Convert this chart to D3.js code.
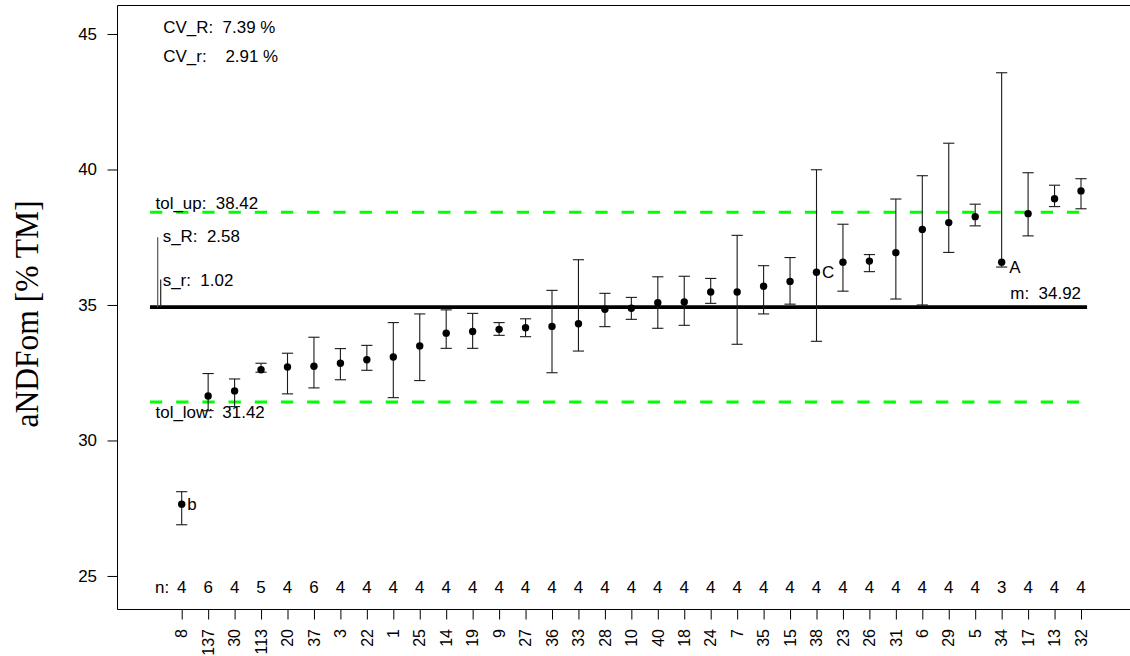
<!DOCTYPE html>
<html><head><meta charset="utf-8">
<script src="https://cdn.jsdelivr.net/npm/d3@7"></script>
<style>
body{margin:0;background:#fff;overflow:hidden}
text{font-family:"Liberation Sans",Arial,sans-serif;font-size:16px;white-space:pre;fill:#000}
</style>
</head><body>
<svg id="c" width="1130" height="656"></svg>
<script>
// ---- data ----
const labs   = ["8","137","30","113","20","37","3","22","1","25","14","19","9","27","36","33","28","10","40","18","24","7","35","15","38","23","26","31","6","29","5","34","17","13","32"];
const means  = [27.65,31.64,31.83,32.61,32.71,32.74,32.85,32.98,33.08,33.49,33.96,34.02,34.10,34.16,34.21,34.31,34.84,34.88,35.08,35.11,35.48,35.48,35.69,35.87,36.21,36.58,36.62,36.93,37.79,38.04,38.26,36.58,38.37,38.92,39.21];
const upper  = [28.11,32.47,32.27,32.85,33.22,33.81,33.39,33.51,34.35,34.67,34.82,34.69,34.35,34.49,35.54,36.67,35.43,35.28,36.04,36.06,35.98,37.57,36.45,36.75,39.99,37.98,36.86,38.91,39.77,40.97,38.72,43.57,39.88,39.42,39.66];
const lower  = [26.89,31.10,31.25,32.52,31.72,31.94,32.24,32.59,31.58,32.21,33.40,33.40,33.88,33.83,32.50,33.30,34.20,34.47,34.14,34.25,35.06,33.55,34.67,35.03,33.66,35.51,36.23,35.22,35.00,36.94,37.92,36.40,37.55,38.63,38.55];
const nvals  = [4,6,4,5,4,6,4,4,4,4,4,4,4,4,4,4,4,4,4,4,4,4,4,4,4,4,4,4,4,4,4,3,4,4,4];
const flagLabs = ["8","38","34"];
const flagText = ["b","C","A"];
const yTicks = [25,30,35,40,45];
const mVal = 34.92, tolUp = 38.42, tolLow = 31.42, sR = 2.58, sr = 1.02;
const cvR = "7.39", cvr = "2.91";
const yTitle = "aNDFom [% TM]";

// ---- layout ----
const SX = 1.06;
const svg = d3.select("#c");
const x = d3.scaleLinear().domain([0, labs.length - 1]).range([181.7, 1081]);
const y = d3.scaleLinear().domain([23.77, 46.07]).range([609.3, 5]);
const pLeft = 117.5, pTop = 5.5, pBottom = 609.5;

function txt(px, py, s, anchor, rot) {
  const g = svg.append("g").attr("transform", `translate(${px},${py}) scale(${SX},1)` + (rot ? ` rotate(${rot})` : ""));
  return g.append("text").attr("text-anchor", anchor || "start").text(s);
}

// box (right side extends beyond the view)
svg.append("path").attr("d", `M1140,${pTop}H${pLeft}V${pBottom}H1140`).attr("fill","none").attr("stroke","#000").attr("stroke-width",1);

// y axis ticks
const yAxis = d3.axisLeft(y).tickValues(yTicks).tickSize(10).tickFormat("");
svg.append("g").attr("transform", `translate(${pLeft},0)`).call(yAxis).call(g => g.select(".domain").remove())
   .selectAll("line").attr("stroke","#000");
yTicks.forEach(v => txt(97, y(v) + 5.7, String(v), "end"));

// x axis ticks
const xAxis = d3.axisBottom(x).tickValues(d3.range(labs.length)).tickSize(10).tickFormat("");
svg.append("g").attr("transform", `translate(0,${pBottom})`).call(xAxis).call(g => g.select(".domain").remove())
   .selectAll("line").attr("stroke","#000");
labs.forEach((l, i) => txt(x(i) + 5.7, 629, l, "end", -90));

// y title
svg.append("g").attr("transform", `translate(37.5,314) scale(${SX},1) rotate(-90)`)
  .append("text").attr("text-anchor","middle").style("font-family",'"Liberation Serif","Times New Roman",serif').style("font-size","31.5px").text(yTitle);

// reference lines
const xs = x(-1.2), xe = x(34.23);
[tolUp, tolLow].forEach(v => svg.append("line").attr("x1", xs).attr("x2", xe).attr("y1", y(v)).attr("y2", y(v))
  .attr("stroke","#00ff00").attr("stroke-width",3).attr("stroke-dasharray","12.3,13.9"));
svg.append("line").attr("x1", xs).attr("x2", xe).attr("y1", y(mVal)).attr("y2", y(mVal)).attr("stroke","#000").attr("stroke-width",3.7);

// s_R / s_r bars
svg.append("line").attr("x1",157.7).attr("x2",157.7).attr("y1",y(mVal)).attr("y2",y(mVal+sR)).attr("stroke","#555").attr("stroke-width",1.2);
svg.append("line").attr("x1",160.7).attr("x2",160.7).attr("y1",y(mVal)).attr("y2",y(mVal+sr)).attr("stroke","#222").attr("stroke-width",1.2);

// annotations
txt(163.3, 33.3, `CV_R:  ${cvR} %`);
txt(163.3, 61.5, `CV_r:    ${cvr} %`);
txt(155.5, 208.5, `tol_up:  ${tolUp.toFixed(2)}`);
txt(162.7, 242.3, `s_R:  ${sR.toFixed(2)}`);
txt(162.7, 285.7, `s_r:  ${sr.toFixed(2)}`);
txt(155.5, 417.5, `tol_low:  ${tolLow.toFixed(2)}`);
txt(1081, 299, `m:  ${mVal.toFixed(2)}`, "end");

// error bars
const eb = svg.append("g").attr("stroke","#1a1a1a").attr("stroke-width",1.1);
labs.forEach((l, i) => {
  const cx = x(i);
  eb.append("line").attr("x1",cx).attr("x2",cx).attr("y1",y(lower[i])).attr("y2",y(upper[i]));
  eb.append("line").attr("x1",cx-5.6).attr("x2",cx+5.6).attr("y1",y(lower[i])).attr("y2",y(lower[i]));
  eb.append("line").attr("x1",cx-5.6).attr("x2",cx+5.6).attr("y1",y(upper[i])).attr("y2",y(upper[i]));
});
svg.append("g").selectAll("circle").data(means).join("circle")
  .attr("cx",(d,i)=>x(i)).attr("cy",d=>y(d)).attr("r",3.7).attr("fill","#000");

// flag letters
flagLabs.forEach((l, k) => {
  const i = labs.indexOf(l);
  const lowFlag = flagText[k] === "A";
  const vy = lowFlag ? y(lower[i]) : y(means[i]);
  txt(x(i) + (lowFlag ? 7.7 : 5.6), vy + 5.7, flagText[k]);
});

// n row
txt(155, 593, "n:");
nvals.forEach((n, i) => txt(x(i), 593, String(n), "middle"));
</script>
</body></html>
